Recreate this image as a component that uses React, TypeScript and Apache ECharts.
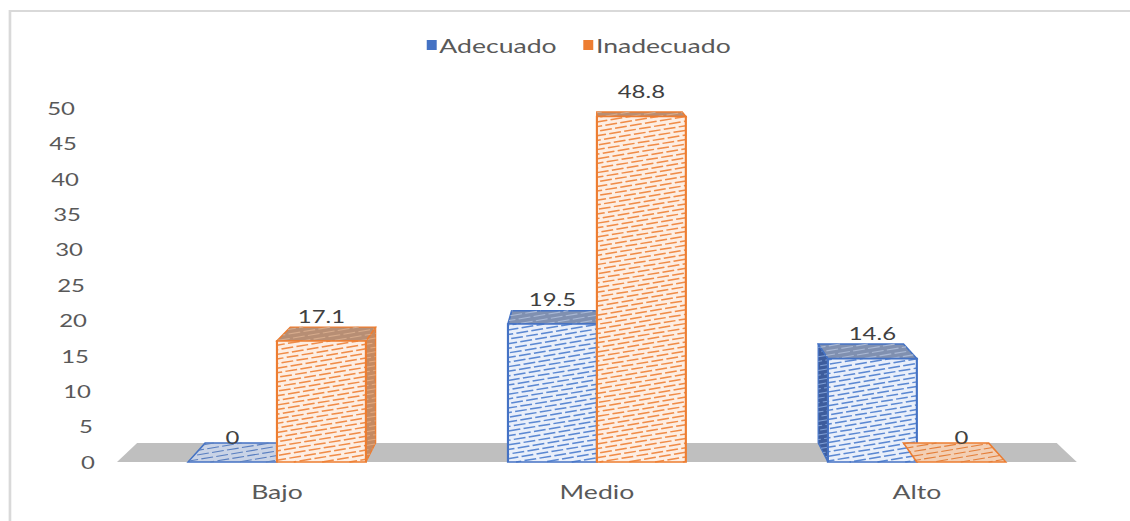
import React, { useEffect, useRef } from 'react';
import * as echarts from 'echarts';

const categories = ['Bajo', 'Medio', 'Alto'];
const seriesNames = ['Adecuado', 'Inadecuado'];
const adecuado = [0, 19.5, 14.6];
const inadecuado = [17.1, 48.8, 0];
const yTicks = [0, 5, 10, 15, 20, 25, 30, 35, 40, 45, 50];

const W = 850;
const H = 521;
const STRETCH = 1130 / W;
const VPX = 597 / STRETCH;
const VPY = 10;
const K = 0.042;
const BAR_FRAC = 0.278;
const FONT = 'Lato, "Open Sans", sans-serif';
const HATCH_M = 0.22;
const HATCH_SP = 4.6;

const STYLES = [
  { line: '#4472c4', front: '#e9effa', dash: '#5b88d2', top: '#8090b0', topDash: '#a9b8d4', flat: '#c9d3e6', flatDash: '#5a7fc0', side: '#3d5c9c', sideDash: '#7f9fd6' },
  { line: '#ed7d31', front: '#fdeee3', dash: '#f08c48', top: '#b78e74', topDash: '#d6ab8c', flat: '#f3cfb4', flatDash: '#e47f3a', side: '#c58a62', sideDash: '#e6a97c' },
];

function back(x: number, y: number): number[] {
  return [x + (VPX - x) * K, y + (VPY - y) * K];
}

function clip(p0: number[], d: number[], poly: number[][]): number[][] | null {
  const n = poly.length;
  let cx = 0, cy = 0;
  poly.forEach((p) => { cx += p[0]; cy += p[1]; });
  cx /= n; cy /= n;
  let tE = -Infinity, tL = Infinity;
  for (let i = 0; i < n; i++) {
    const a = poly[i], b = poly[(i + 1) % n];
    const ex = b[0] - a[0], ey = b[1] - a[1];
    let nx = -ey, ny = ex;
    if (Math.abs(nx) + Math.abs(ny) < 1e-9) continue;
    if (nx * (cx - a[0]) + ny * (cy - a[1]) < 0) { nx = -nx; ny = -ny; }
    const num = nx * (p0[0] - a[0]) + ny * (p0[1] - a[1]);
    const den = nx * d[0] + ny * d[1];
    if (Math.abs(den) < 1e-9) { if (num < 0) return null; continue; }
    const t = -num / den;
    if (den > 0) tE = Math.max(tE, t); else tL = Math.min(tL, t);
  }
  if (!(tE < tL - 0.5)) return null;
  return [[p0[0] + tE * d[0], p0[1] + tE * d[1]], [p0[0] + tL * d[0], p0[1] + tL * d[1]]];
}

function hatch(poly: number[][], color: string, out: any[], width = 1.4) {
  let cMin = Infinity, cMax = -Infinity;
  for (const [x, y] of poly) {
    const c = y + HATCH_M * x;
    cMin = Math.min(cMin, c); cMax = Math.max(cMax, c);
  }
  const start = Math.ceil(cMin / HATCH_SP) * HATCH_SP;
  for (let c = start; c <= cMax; c += HATCH_SP) {
    const seg = clip([0, c], [1, -HATCH_M], poly);
    if (!seg) continue;
    const idx = Math.round(c / HATCH_SP);
    out.push({
      type: 'line', silent: true,
      shape: { x1: seg[0][0], y1: seg[0][1], x2: seg[1][0], y2: seg[1][1] },
      style: { stroke: color, lineWidth: width, lineDash: [9, 2.5], lineDashOffset: (idx * 4.1) % 11.5 },
    });
  }
}

function poly(points: number[][], fill: string, stroke: string, lw = 1) {
  return { type: 'polygon', silent: true, shape: { points }, style: { fill, stroke, lineWidth: lw } };
}

function barSeries(s: number) {
  const values = s === 0 ? adecuado : inadecuado;
  const st = STYLES[s];
  return {
    name: seriesNames[s],
    type: 'custom',
    clip: false,
    itemStyle: { color: st.line },
    encode: { x: 0, y: 1 },
    data: values.map((v, i) => [i, v]),
    renderItem: (params: any, api: any) => {
      const ci = api.value(0);
      const v = api.value(1);
      const [cx, yTop] = api.coord([ci, v]);
      const yBase = api.coord([ci, 0])[1];
      const bw = api.size([1, 0])[0] * BAR_FRAC;
      const x1 = s === 0 ? cx - bw : cx;
      const x2 = x1 + bw;
      const midX = (x1 + x2) / 2;
      const children: any[] = [];
      const fl = [x1, yTop], fr = [x2, yTop];
      const bl = back(x1, yTop), br = back(x2, yTop);
      if (v > 0) {
        let side: number[][] | null = null;
        if (midX < VPX) {
          const bb = back(x2, yBase);
          if (Math.abs(bb[0] - x2) > 1) side = [[x2, yTop], br, bb, [x2, yBase]];
        } else {
          const bb = back(x1, yBase);
          if (Math.abs(bb[0] - x1) > 1) side = [[x1, yTop], bl, bb, [x1, yBase]];
        }
        if (side) {
          children.push(poly(side, st.side, st.line, 1));
          hatch(side, st.sideDash, children, 1);
        }
      }
      const top = [fl, fr, br, bl];
      children.push(poly(top, v > 0 ? st.top : st.flat, st.line, 1.3));
      hatch(top, v > 0 ? st.topDash : st.flatDash, children, 1.1);
      if (v > 0) {
        const front = [[x1, yTop], [x2, yTop], [x2, yBase], [x1, yBase]];
        children.push(poly(front, st.front, 'none', 0));
        hatch(front, st.dash, children, 1.5);
        children.push({
          type: 'rect', silent: true,
          shape: { x: x1, y: yTop, width: bw, height: yBase - yTop },
          style: { fill: 'none', stroke: st.line, lineWidth: 1.6 },
        });
      }
      children.push({
        type: 'text', silent: true,
        x: midX, y: yTop - 25,
        style: {
          text: String(v), fill: '#404040', fontSize: 18, fontFamily: FONT,
          align: 'center', verticalAlign: 'middle', textAlign: 'center', textVerticalAlign: 'middle',
        },
      });
      return { type: 'group', children };
    },
  };
}

const option: any = {
  animation: false,
  backgroundColor: '#ffffff',
  grid: { left: 88, right: 40, top: 108, bottom: 59, containLabel: false },
  legend: {
    data: seriesNames,
    left: 316,
    top: 30,
    icon: 'rect',
    itemWidth: 7.5,
    itemHeight: 10,
    itemGap: 20,
    textStyle: { fontSize: 20, color: '#595959', fontFamily: FONT, padding: [0, 0, 0, -3] },
  },
  graphic: [
    {
      type: 'rect', silent: true, z: -10,
      shape: { x: 7.5, y: 11, width: 1000, height: 1000 },
      style: { fill: 'none', stroke: '#d9d9d9', lineWidth: 2 },
    },
  ],
  xAxis: {
    type: 'category',
    data: categories,
    axisLine: { show: false },
    axisTick: { show: false },
    axisLabel: { color: '#595959', fontSize: 20, fontFamily: FONT, margin: 19 },
    splitLine: { show: false },
  },
  yAxis: {
    type: 'value',
    min: 0,
    max: 50,
    interval: 5,
    axisLine: { show: false },
    axisTick: { show: false },
    axisLabel: { show: false },
    splitLine: { show: false },
  },
  series: [
    {
      name: 'floor',
      type: 'custom',
      clip: false,
      encode: { x: 0, y: 1 },
      data: [[0, 0]],
      renderItem: (params: any, api: any) => {
        const cs = params.coordSys;
        const y = api.coord([0, 0])[1];
        const xL = cs.x, xR = cs.x + cs.width;
        return poly([[xL, y], [xR, y], back(xR, y), back(xL, y)], '#bfbfbf', 'none', 0);
      },
    },
    barSeries(0),
    barSeries(1),
    {
      name: 'yLabels',
      type: 'custom',
      clip: false,
      encode: { x: 0, y: 1 },
      data: yTicks.map((v) => [0, v]),
      renderItem: (params: any, api: any) => {
        const cs = params.coordSys;
        const v = api.value(1);
        const y = api.coord([0, v])[1];
        const yBase = api.coord([0, 0])[1];
        const xr = cs.x - (22 + (yBase - y) * 0.0565) / STRETCH;
        return {
          type: 'text', silent: true, x: xr, y,
          style: {
            text: String(v), fill: '#595959', fontSize: 18, fontFamily: FONT,
            align: 'right', verticalAlign: 'middle', textAlign: 'right', textVerticalAlign: 'middle',
          },
        };
      },
    },
  ],
};

export default function App() {
  const ref = useRef<HTMLDivElement>(null);
  useEffect(() => {
    const el = ref.current!;
    const chart = echarts.init(el, undefined, { renderer: 'svg', width: W, height: H });
    chart.setOption(option);
    return () => chart.dispose();
  }, []);
  return (
    <div
      ref={ref}
      style={{
        position: 'absolute', left: 0, top: 0, width: W, height: H,
        transform: `scaleX(${STRETCH})`, transformOrigin: '0 0', background: '#fff',
      }}
    />
  );
}
